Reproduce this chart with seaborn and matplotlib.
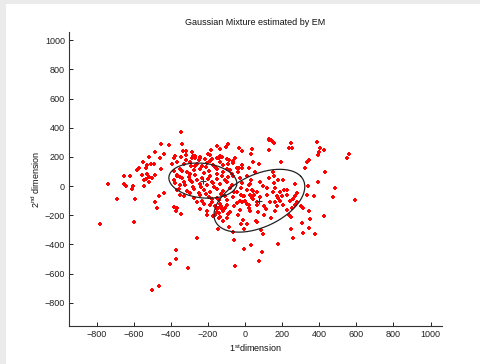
import numpy as np
import pandas as pd
import matplotlib
matplotlib.use("Agg")
import matplotlib.pyplot as plt
from matplotlib.patches import Rectangle
import seaborn as sns

# sample points (1st dimension, 2nd dimension)
sparse_x = [-347, -454, -411, -341, -487, -437, -516, -458, -551, -494, -508, -527, -386, -573, -584,
            -534, -454, -656, -620, -555, -530, -516, -484, -544, -519, -534, -501, -737, -656, -642,
            -605, -609, -548, -692, -595, -462, -440, -484, -476, -386, -365, -365, -350, -350, -365,
            -386, -372, -347, -785, -602, -372, -372, -404, -467, -501, -206, -260, -139, -146, -85,
            -63, -59, -5, 31, 92, 74, -56, -307, 95, 88, -23, -5, 9, 63, 163, 225, 253, 304, 311, 343,
            236, 246, 350, 426, 307, 347, 246, 314, 379, 260, 178, 153, 142, 246, 239, 253, 390, 404,
            426, 400, 394, 562, 551, 347, 333, 325, 192, 433, 153, 206, 268, 340, 394, 487, 476, 595,
            372, 333, 279, 225, 228, 189, 171, 178, 200, 156, 163, 268, 257, 282, 271, 163, 206, 128,
            131, -149, -135, -92, -102, -31, -16, 38, 31, -185, -318, -336, -135, -142, -85, -66, -56,
            -178, -199, -279, -268, -289, -246, -34, -16, 20, 45, 74, 56, 81, 128, 156, 95, 120, 31, 23,
            9, 38, 66, 27, 42, 81, 120, 153, -20, -5, -16, 23, 63, 102, 135, 131, 156]
sparse_y = [373, 288, 281, 288, 231, 217, 197, 190, 167, 149, 149, 144, 194, 126, 112,
            121, 115, 71, 71, 75, 80, 64, 75, 41, 29, 48, 53, 14, 12, 2,
            0, -21, 0, -89, -89, -66, -50, -112, -149, -144, -149, 75, 64, 7, -30,
            41, -171, -194, -261, -249, -437, -501, -537, -686, -715, -199, -359, -222, -295, -279,
            -313, -370, -432, -405, -451, -514, -547, -565, -331, -302, -263, -295, -263, -249, -171, -165, -153, -135, -153, -171,
            -199, -210, -226, -208, -256, -290, -295, -324, -331, -354, -400, 304, 315, 293, 259, 263, 304, 263,
            247, 231, 213, 217, 194, 178, 162, 126, 162, 98, 98, 41, 16, 2, 25, -12, -73, -96,
            -67, -62, -50, -27, -62, -39, -66, -80, -66, 19, -12, -66, -89, -112, -130, -107, -130, 318,
            247, 277, 254, 286, 267, 259, 240, 254, 217, 247, 240, 240, 208, 190, 180, 171, 190,
            185, 217, 208, 190, 235, 190, 126, 121, 126, 167, 149, 94, 29, 53, 71, 2, -12, 43, 7,
            -30, -30, -39, -62, -89, -75, -62, -39, -16, -66, -107, -130, -130, -135, -107, 320, 297]

dense_x = [-377, -347, -318, -287, -269, -243, -215, -188, -153, -126, -99,
           -395, -368, -329, -296, -257, -207, -171, -135, -90, -63, -18,
           -386, -350, -314, -278, -243, -197, -153, -117, -81, -45,
           -368, -341, -305, -269, -233, -188, -153, -126, -90, -63, -27, 9,
           -377, -323, -287, -243, -207, -171, -135, -99, -72, -18, 27,
           -359, -314, -278, -224, -188, -153, -117, -81, -45, 9, 45,
           -332, -278, -243, -197, -153, -108, -63, -9, 36,
           -260, -224, -179, -135, -99, -45, 9, 63,
           -243, -207, -153, -117, -81, -27, 27,
           -171, -135, -99,
           -160, -145, -130, -150, -125, -140,
           -300, -260, -220, -180, -150, -110, -240, -200, -170, -130, -100, -60, -30,
           -210, -270, -330, -350, -300,
           -320, -290, -250, -230, -190, -160, -120, -100, -70, -40,
           -340, -300, -280, -250, -210, -180, -140, -110, -90, -60,
           -20, 0, 20, 50, 70, 100, 110, 140, 170, 190,
           -40, -10, 60, -190, -230, -160, -120, 210, 240, 180]
dense_y = [205, 196, 214, 190, 208, 199, 186, 212, 195, 202, 188,
           150, 162, 148, 165, 152, 160, 143, 168, 150, 158, 146,
           104, 118, 99, 112, 120, 101, 115, 96, 108, 121,
           70, 55, 62, 75, 58, 68, 51, 72, 60, 66, 53, 70,
           24, 10, 28, 15, 4, 22, 12, 30, 8, 20, 14,
           -20, -35, -18, -30, -40, -22, -31, -15, -38, -25, -33,
           -68, -80, -62, -75, -85, -66, -78, -70, -82,
           -112, -125, -108, -120, -130, -115, -124, -110,
           -160, -172, -158, -168, -175, -162, -170,
           -205, -215, -220,
           -140, -150, -135, -175, -160, -185,
           80, 40, 90, 30, 85, 40, -10, 50, -5, -55, -95, -40, -100,
           130, 140, 30, -60, -50,
           180, 140, 175, 140, 170, 130, 145, 120, 85, 95,
           100, 40, -5, -45, -55, -90, -95, -150, -190, -140,
           -60, -100, -150, -60, -180, -200, -160, -220, -140, -100,
           -200, -230, -240, -130, -100, -200, -240, -30, -100, 40]

# fitted components: centre, semi axes, rotation (deg)
means_x = [-228, 77]
means_y = [37, -101]
semi_major = [185, 279]
semi_minor = [118, 169]
angles = [-10, 37]

pts = pd.DataFrame({"x": sparse_x + dense_x, "y": sparse_y + dense_y})

sns.set_style("ticks")
plt.rcParams["font.family"] = ["Liberation Sans", "DejaVu Sans"]
plt.rcParams["mathtext.fontset"] = "custom"
plt.rcParams["mathtext.rm"] = "Liberation Sans"
plt.rcParams["mathtext.default"] = "regular"

fig = plt.figure(figsize=(4.81, 3.64), dpi=100, facecolor="#ebebeb")
fig.patches.append(Rectangle((6 / 481, 0), 1, (364 - 4) / 364, transform=fig.transFigure,
                             facecolor="white", edgecolor="none", zorder=-10))
ax = fig.add_axes([69 / 481, 38 / 364, 373 / 481, 294 / 364])
ax.set_facecolor("white")

sns.scatterplot(data=pts, x="x", y="y", ax=ax, color="red", marker="+", s=12,
                linewidth=1.4, legend=False, zorder=3)

t = np.linspace(0, 2 * np.pi, 200)
for cx, cy, a, b, ang in zip(means_x, means_y, semi_major, semi_minor, angles):
    th = np.deg2rad(ang)
    ex = cx + a * np.cos(t) * np.cos(th) - b * np.sin(t) * np.sin(th)
    ey = cy + a * np.cos(t) * np.sin(th) + b * np.sin(t) * np.cos(th)
    ax.plot(ex, ey, color="#222222", lw=0.9, zorder=4)
ax.scatter(means_x, means_y, marker="+", color="#333333", s=25, linewidths=0.8, zorder=5)

ax.set_xlim(-950, 1062)
ax.set_ylim(-960, 1056)
ax.set_xticks(range(-800, 1001, 200))
ax.set_yticks(range(-800, 1001, 200))
ax.tick_params(direction="in", length=3, width=0.7, labelsize=6.5, colors="#222222", pad=3)
for side in ["left", "bottom"]:
    ax.spines[side].set_color("#333333")
    ax.spines[side].set_linewidth(0.8)
sns.despine(ax=ax)

ax.set_title("Gaussian Mixture estimated by EM", fontsize=6.5, pad=5, color="#111111")
ax.set_xlabel(r"1$^{st}$dimension", fontsize=6.5, labelpad=2, color="#111111")
ax.set_ylabel(r"2$^{nd}$ dimension", fontsize=6.5, labelpad=2, color="#111111")

fig.savefig("out.png", dpi=100, facecolor=fig.get_facecolor())
